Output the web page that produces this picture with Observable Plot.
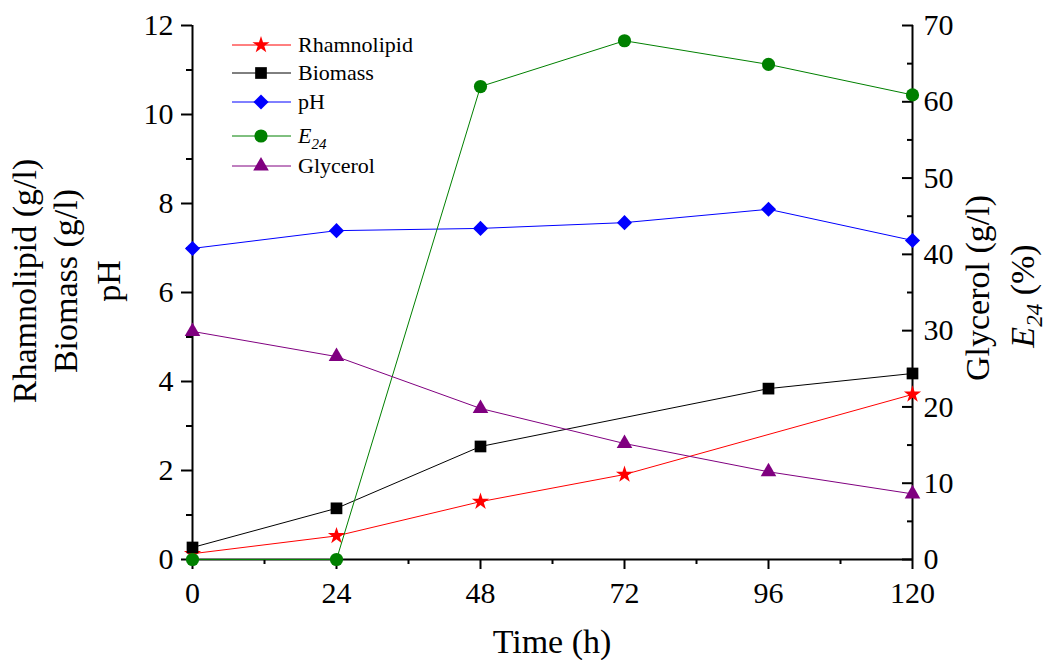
<!DOCTYPE html>
<html><head><meta charset="utf-8">
<script src="https://cdn.jsdelivr.net/npm/d3@7"></script>
<script src="https://cdn.jsdelivr.net/npm/@observablehq/plot@0.6"></script>
<style>
html,body{margin:0;padding:0;background:#fff}
#chart{position:relative;width:1049px;height:660px}
</style>
</head><body><div id="chart"></div>
<script>
// ---- data ----
const time = [0, 24, 48, 72, 96, 120];
const rhamnolipid = [0.13, 0.53, 1.30, 1.91, null, 3.71];   // g/l (left)
const biomass     = [0.27, 1.15, 2.54, null, 3.84, 4.18];   // g/l (left)
const pH          = [6.99, 7.39, 7.44, 7.57, 7.87, 7.17];   // (left)
const e24         = [0, 0, 62.0, 68.0, 64.9, 60.9];         // % (right)
const glycerol    = [29.9, 26.6, 19.8, 15.2, 11.5, 8.6];    // g/l (right)
const seriesNames = ["Rhamnolipid", "Biomass", "pH", "E24", "Glycerol"];
const seriesAxis  = ["left", "left", "left", "right", "right"];
const xTicks = [0, 24, 48, 72, 96, 120];
const xMinorTicks = [12, 36, 60, 84, 108];
const leftTicks = [0, 2, 4, 6, 8, 10, 12];
const leftMinorTicks = [1, 3, 5, 7, 9, 11];
const rightTicks = [0, 10, 20, 30, 40, 50, 60, 70];
const rightMinorTicks = [5, 15, 25, 35, 45, 55, 65];
const leftDomain = [0, 12];
const rightDomain = [0, 70];

// ---- styles ----
const styles = [
  {color: "#ff0000", symbol: d3.symbolStar, r: 5.4},
  {color: "#000000", symbol: d3.symbolSquare, r: 6.6},
  {color: "#0000ff", symbol: d3.symbolDiamond2, r: 6.8},
  {color: "#008000", symbol: d3.symbolCircle, r: 6.6},
  {color: "#800080", symbol: d3.symbolTriangle, r: 5.8}
];
const FONT = "Liberation Serif, Times New Roman, serif";

const k = leftDomain[1] / rightDomain[1];
const valuesList = [rhamnolipid, biomass, pH, e24, glycerol];
const seriesRows = valuesList.map((vals, i) =>
  time.map((t, j) => ({series: seriesNames[i], t, raw: vals[j],
    v: vals[j] == null ? null : (seriesAxis[i] === "right" ? vals[j] * k : vals[j])}))
      .filter(d => d.v != null));

const marks = [];
// frame lines
marks.push(Plot.ruleY([0], {stroke: "#000", strokeWidth: 2}));
marks.push(Plot.ruleX([0], {stroke: "#000", strokeWidth: 2}));
marks.push(Plot.ruleX([120], {stroke: "#000", strokeWidth: 2}));
// axes
marks.push(Plot.axisX(xTicks, {anchor: "bottom", tickSize: 10, tickPadding: 12, strokeWidth: 2, fontSize: 30, label: null}));
marks.push(Plot.axisX(xMinorTicks, {anchor: "bottom", tickSize: 5, strokeWidth: 2, tickFormat: () => "", label: null}));
marks.push(Plot.axisY(leftTicks, {anchor: "left", tickSize: 11, tickPadding: 8, strokeWidth: 2, fontSize: 30, label: null}));
marks.push(Plot.axisY(leftMinorTicks, {anchor: "left", tickSize: 6, strokeWidth: 2, tickFormat: () => "", label: null}));
marks.push(Plot.axisY(rightTicks.map(v => v * k), {anchor: "right", tickSize: -11, tickPadding: 22, strokeWidth: 2, fontSize: 30, label: null, tickFormat: d => String(Math.round(d / k))}));
marks.push(Plot.axisY(rightMinorTicks.map(v => v * k), {anchor: "right", tickSize: -6, strokeWidth: 2, tickFormat: () => "", label: null}));
// series
seriesRows.forEach((rows, i) => {
  const s = styles[i];
  marks.push(Plot.line(rows, {x: "t", y: "v", stroke: s.color, strokeWidth: 1}));
  marks.push(Plot.dot(rows, {x: "t", y: "v", fill: s.color, stroke: "none", symbol: s.symbol, r: s.r}));
});

const svg = Plot.plot({
  width: 1049, height: 660,
  marginLeft: 192, marginRight: 137, marginTop: 25, marginBottom: 101,
  x: {domain: [0, 120], axis: null},
  y: {domain: leftDomain, axis: null},
  style: {fontFamily: FONT, background: "#fff", color: "#000", overflow: "visible"},
  marks
});
document.getElementById("chart").appendChild(svg);

// ---- titles ----
const g = d3.select(svg).append("g").attr("font-family", FONT).attr("fill", "#000").attr("text-anchor", "middle");
g.append("text").attr("x", 552).attr("y", 653).attr("font-size", 34).text("Time (h)");
const leftTitles = ["Rhamnolipid (g/l)", "Biomass (g/l)", "pH"];
const leftTitleX = [36, 77, 120];
leftTitles.forEach((t, i) => {
  g.append("text").attr("transform", `translate(${leftTitleX[i]},281) rotate(-90)`)
    .attr("font-size", 34).text(t);
});
g.append("text").attr("transform", "translate(989,288) rotate(-90)")
  .attr("font-size", 34).text("Glycerol (g/l)");
const e = g.append("text").attr("transform", "translate(1034,296) rotate(-90)")
  .attr("font-size", 34);
e.append("tspan").attr("font-style", "italic").text("E");
e.append("tspan").attr("font-style", "italic").attr("font-size", 23).attr("dy", 8).text("24");
e.append("tspan").attr("dy", -8).text(" (%)");

// ---- legend ----
const legendY = [45, 73, 102, 136, 166];
const lg = d3.select(svg).append("g").attr("font-family", FONT).attr("text-anchor", "start");
seriesNames.forEach((name, i) => {
  const s = styles[i], y = legendY[i];
  lg.append("line").attr("x1", 232).attr("x2", 291).attr("y1", y).attr("y2", y)
    .attr("stroke", s.color).attr("stroke-width", 1);
  lg.append("path").attr("transform", `translate(261,${y})`)
    .attr("d", d3.symbol(s.symbol, Math.PI * s.r * s.r)()).attr("fill", s.color);
  const t = lg.append("text").attr("x", 298).attr("y", y + 7).attr("font-size", 22).attr("fill", "#000");
  if (name === "E24") {
    t.append("tspan").attr("font-style", "italic").text("E");
    t.append("tspan").attr("font-style", "italic").attr("font-size", 15).attr("dy", 6).text("24");
  } else {
    t.text(name);
  }
});
</script>
</body></html>
